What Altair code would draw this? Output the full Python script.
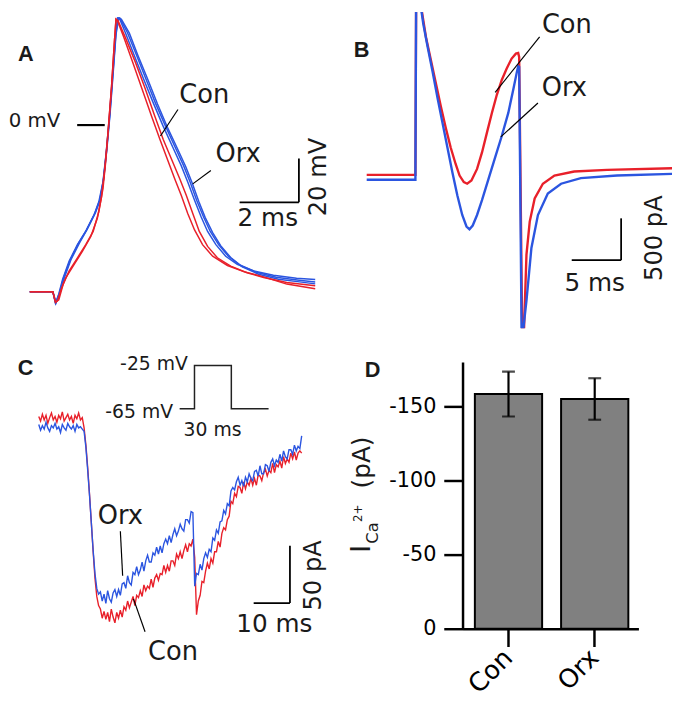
import altair as alt
import pandas as pd

RED = "#e8202a"
BLUE = "#2b55e0"
FONT = "DejaVu Sans"
LFONT = "Liberation Sans"

# ---------------- Panel A: action potentials (ms, mV) ----------------
A_RED1_T = [0, 0.78, 0.87, 0.94, 1.06, 1.22, 1.50, 1.78, 2.06, 2.28, 2.42, 2.53, 2.64, 2.76, 2.86, 2.91, 2.98,
            3.22, 3.56, 3.89, 4.22, 4.50, 4.78, 5.06, 5.28, 5.50, 5.72, 6.00, 6.33, 6.78, 7.33, 7.89, 8.67, 9.63]
A_RED1_V = [-76.0, -76.0, -80.8, -80.0, -74.8, -69.5, -63.5, -57.5, -50.8, -42.5, -32.8, -20.0, -3.5, 17.6, 38.6,
            48.3, 47.6, 40.1, 28.8, 16.8, 4.0, -6.5, -15.5, -24.5, -32.0, -40.3, -48.5, -55.3, -60.5, -64.3, -67.3,
            -69.5, -71.8, -73.3]
A_RED2_T = [0, 0.78, 0.87, 0.98, 1.13, 1.33, 1.61, 1.89, 2.14, 2.33, 2.47, 2.56, 2.64, 2.76, 2.86, 2.91, 2.96,
            3.17, 3.47, 3.78, 4.11, 4.39, 4.64, 4.89, 5.11, 5.33, 5.56, 5.83, 6.17, 6.67, 7.22, 7.89, 8.67, 9.63]
A_RED2_V = [-76.0, -76.0, -80.8, -79.7, -72.5, -66.5, -60.5, -54.5, -48.5, -39.5, -29.0, -17.0, -3.5, 17.6, 38.6,
            48.3, 47.6, 40.1, 28.8, 16.8, 4.0, -6.5, -15.5, -24.5, -32.0, -40.3, -47.8, -54.5, -59.8, -64.0, -66.8,
            -69.2, -72.5, -74.6]
A_BLUE1_T = [0, 0.78, 0.87, 0.98, 1.11, 1.33, 1.61, 1.89, 2.17, 2.33, 2.47, 2.58, 2.69, 2.80, 2.89, 2.96, 3.02,
             3.22, 3.50, 3.83, 4.17, 4.50, 4.83, 5.11, 5.33, 5.56, 5.78, 6.00, 6.28, 6.61, 7.00, 7.56, 8.22, 9.00, 9.63]
A_BLUE1_V = [-76.0, -76.0, -81.2, -77.0, -70.3, -62.0, -54.5, -48.5, -41.0, -35.0, -26.0, -12.5, 4.0, 23.6, 40.1,
             48.8, 48.8, 42.3, 32.6, 21.3, 10.0, -0.5, -10.2, -18.5, -26.0, -34.3, -41.8, -48.5, -54.5, -59.8, -63.5,
             -66.5, -68.5, -69.8, -70.4]
A_BLUE2_T = [0, 0.78, 0.87, 1.00, 1.13, 1.36, 1.63, 1.91, 2.19, 2.36, 2.48, 2.59, 2.70, 2.81, 2.90, 2.97, 3.04,
             3.29, 3.58, 3.91, 4.24, 4.58, 4.91, 5.19, 5.41, 5.63, 5.86, 6.09, 6.37, 6.70, 7.09, 7.64, 8.31, 9.09, 9.63]
A_BLUE2_V = [-76.0, -76.0, -81.2, -76.7, -70.0, -61.7, -54.2, -47.9, -40.4, -34.4, -25.4, -11.9, 4.6, 24.2, 40.7,
             48.8, 48.8, 42.3, 32.6, 21.3, 10.0, -0.5, -10.2, -18.5, -26.0, -34.3, -41.8, -48.5, -54.5, -59.8, -63.8,
             -67.1, -69.4, -70.7, -71.5]
A_BLUE3_T = [0, 0.78, 0.89, 1.02, 1.17, 1.39, 1.67, 1.94, 2.22, 2.38, 2.49, 2.60, 2.71, 2.82, 2.91, 3.00, 3.09,
             3.36, 3.64, 3.98, 4.31, 4.64, 4.98, 5.26, 5.48, 5.70, 5.92, 6.17, 6.44, 6.78, 7.17, 7.72, 8.39, 9.17, 9.63]
A_BLUE3_V = [-76.0, -76.0, -81.0, -76.4, -69.5, -61.4, -53.9, -47.5, -39.8, -33.8, -24.8, -11.3, 5.2, 24.8, 41.3,
             48.5, 48.3, 41.9, 32.1, 20.9, 9.6, -0.9, -10.7, -18.9, -26.4, -34.7, -42.2, -49.0, -55.0, -60.4, -64.6,
             -68.0, -70.3, -71.6, -72.4]

# ---------------- Panel B: AP-clamp currents (ms, pA) ----------------
B_RED_T = [-5.0, -0.07, 0.0, 0.5, 1.0, 1.5, 2.0, 2.5, 3.0, 3.5, 4.0, 4.4, 4.83, 5.17, 5.6, 6.17, 6.67, 7.17, 7.67,
           8.17, 8.67, 9.17, 9.67, 10.1, 10.33, 10.43, 10.73, 10.93, 11.17, 11.5, 12.0, 12.83, 14.0, 16.0, 19.33, 25.9]
B_RED_I = [0, 0, 2018, 2018, 1647, 1372, 1096, 820, 564, 327, 130, -8, -86, -106, -67, 71, 268, 505, 741, 958,
           1135, 1273, 1391, 1450, 1458, 1411, -1820, -1820, -953, -559, -283, -106, -8, 40, 60, 79]
B_BLUE_T = [-5.0, -0.07, 0.0, 0.47, 0.73, 1.17, 1.67, 2.17, 2.67, 3.17, 3.67, 4.17, 4.67, 5.1, 5.4, 5.73, 6.17,
            6.67, 7.33, 8.0, 8.67, 9.33, 9.83, 10.17, 10.33, 10.43, 10.67, 10.87, 11.17, 11.67, 12.33, 13.33, 14.67,
            16.67, 20.33, 25.9]
B_BLUE_I = [-59, -59, 2018, 2018, 1805, 1529, 1234, 918, 623, 327, 32, -244, -480, -618, -650, -606, -480, -303,
            -47, 209, 465, 741, 1017, 1214, 1301, 1293, -1820, -1820, -1505, -874, -480, -224, -106, -39, -8, 12]

# ---------------- Panel C: step-evoked Ca2+ currents (ms, pA) ----------------
C_T = [-12.5, -12.0, -11.5, -11.0, -10.5, -10.0, -9.5, -9.0, -8.5, -8.0,
       -7.5, -7.0, -6.5, -6.0, -5.5, -5.0, -4.5, -4.0, -3.5, -3.0,
       -2.5, -2.0, -1.5, -1.0, -0.5, 0.0, 0.5, 1.0, 1.5, 2.0,
       2.5, 3.0, 3.5, 4.0, 4.5, 5.0, 5.5, 6.0, 6.5, 7.0,
       7.5, 8.0, 8.5, 9.0, 9.5, 10.0, 10.5, 11.0, 11.5, 12.0,
       12.5, 13.0, 13.5, 14.0, 14.5, 15.0, 15.5, 16.0, 16.5, 17.0,
       17.5, 18.0, 18.5, 19.0, 19.5, 20.0, 20.5, 21.0, 21.5, 22.0,
       22.5, 23.0, 23.5, 24.0, 24.5, 25.0, 25.5, 26.0, 26.5, 27.0,
       27.5, 28.0, 28.5, 29.0, 29.5, 30.0, 30.5, 31.0, 31.5, 32.0,
       32.5, 33.0, 33.5, 34.0, 34.5, 35.0, 35.5, 36.0, 36.5, 37.0,
       37.5, 38.0, 38.5, 39.0, 39.5, 40.0, 40.5, 41.0, 41.5, 42.0,
       42.5, 43.0, 43.5, 44.0, 44.5, 45.0, 45.5, 46.0, 46.5, 47.0,
       47.5, 48.0, 48.5, 49.0, 49.5, 50.0, 50.5, 51.0, 51.5, 52.0,
       52.5, 53.0, 53.5, 54.0, 54.5, 55.0, 55.5, 56.0, 56.5, 57.0,
       57.5, 58.0, 58.5, 59.0, 59.5, 60.0]
C_BLUE = [-2, -7, -3, -6, 0, -5, -8, -3, -5, -1, -6, -4, -9, -2, -5, -7, -1, -4, -6, -3, -8, -2, -5, -4, -6,
          -8, -22, -42, -64, -88, -112, -132, -145, -150,
          -148, -156, -150, -158, -147, -154, -157, -149,
          -146, -152, -146, -151, -141, -140, -145, -134, -140, -142, -131, -133, -126, -133, -129, -122, -130,
          -121, -116, -122, -122, -114, -116, -109, -115, -108, -114, -106, -102, -106, -99, -105, -98, -93, -99,
          -95, -89, -93, -95, -85, -85, -88, -78, -79,
          -143, -132, -133, -124, -129, -119, -114, -118, -111, -113, -101, -103, -94, -97, -87, -86, -77, -80,
          -71, -73, -60, -57, -59, -52, -48, -55, -51, -56, -48, -52, -45, -49, -51, -43, -42, -47, -38, -45, -45,
          -37, -38, -43, -35, -32, -38, -33, -35, -28, -34, -25, -30, -32, -24, -24, -28, -20, -25, -21, -23, -12]
C_RED = [5, 1, 7, 2, 6, -1, 4, 8, 2, 5, 0, 6, 3, 9, 1, 4, 7, 2, 5, -1, 6, 3, 8, 2, 4,
         -5, -20, -40, -63, -88, -113, -136, -152, -160,
         -163, -171, -165, -172, -166, -174, -163, -170, -175, -166, -171, -164,
         -170, -161, -164, -156, -162, -157, -152, -160, -151, -153, -147, -152, -142, -147, -143, -145, -137,
         -144, -136, -133, -138, -132, -133, -125, -131, -125, -130, -121, -121, -125, -115, -119, -113, -119,
         -112, -107, -113, -106, -108, -102,
         -118, -168, -156, -151, -139, -140, -130, -123, -128, -119, -123, -113, -113, -104, -109, -97, -92, -94,
         -85, -82, -69, -71, -62, -65, -56, -57, -62, -52, -58, -52, -55, -49, -55, -49, -55, -46, -47, -51, -44,
         -41, -47, -42, -44, -36, -44, -37, -39, -34, -40, -30, -36, -32, -35, -27, -32, -26, -33, -27, -25, -27]
C_STEP_T = [26.35, 30.44, 30.44, 40.6, 40.6, 50.87]
C_STEP_I = [11.8, 11.8, 49.4, 49.4, 11.8, 11.8]

# ---------------- Panel D: peak ICa2+ (pA) ----------------
D_COND = ["Con", "Orx"]
D_MEAN = [-158.3, -155.0]
D_SEM = [15.1, 14.0]


def scale(dom, rng):
    return alt.Scale(domain=dom, range=rng, nice=False, zero=False)


def trace(t, v, color, width, xs, ys):
    df = pd.DataFrame({"t": t, "v": v, "i": list(range(len(t)))})
    return alt.Chart(df).mark_line(color=color, strokeWidth=width, clip=True).encode(
        x=alt.X("t:Q", scale=xs, axis=None),
        y=alt.Y("v:Q", scale=ys, axis=None),
        order=alt.Order("i:Q"))


def segs(rows, xs, ys, width):
    df = pd.DataFrame(rows, columns=["t", "v", "t2", "v2"])
    return alt.Chart(df).mark_rule(color="black", strokeWidth=width, clip=True).encode(
        x=alt.X("t:Q", scale=xs, axis=None), y=alt.Y("v:Q", scale=ys, axis=None),
        x2="t2:Q", y2="v2:Q")


def label(txt, t, v, xs, ys, size, align="center", angle=0, bold=False, font=FONT):
    df = pd.DataFrame({"t": [t], "v": [v], "label": [txt]})
    return alt.Chart(df).mark_text(font=font, fontSize=size, align=align, baseline="alphabetic",
                                   angle=angle, fontWeight="bold" if bold else "normal",
                                   color="#1a1a1a", clip=True).encode(
        x=alt.X("t:Q", scale=xs, axis=None), y=alt.Y("v:Q", scale=ys, axis=None), text="label:N")


# ---- A ----  (plot-area pixel ranges: the whole figure is one 674x695 canvas)
xa = scale([-1.0, 10.3667], [-8, 333])
ya = scale([-93.56, 55.09], [322, -8])
panel_a = alt.layer(
    trace(A_BLUE1_T, A_BLUE1_V, BLUE, 1.5, xa, ya),
    trace(A_BLUE2_T, A_BLUE2_V, BLUE, 1.5, xa, ya),
    trace(A_BLUE3_T, A_BLUE3_V, BLUE, 1.5, xa, ya),
    trace(A_RED1_T, A_RED1_V, RED, 1.5, xa, ya),
    trace(A_RED2_T, A_RED2_V, RED, 1.5, xa, ya),
    segs([[5.0, 7.1, 4.41, -5.0], [6.11, -20.7, 5.5, -26.8]], xa, ya, 1.2),
    segs([[1.6, 0.0, 2.53, 0.0]], xa, ya, 2.2),
    segs([[7.08, -35.2, 9.08, -35.2], [9.08, -35.2, 9.08, -15.2]], xa, ya, 1.8),
    label("Con", 5.89, 10.0, xa, ya, 26),
    label("Orx", 7.03, -16.7, xa, ya, 26),
    label("2 ms", 8.03, -45.8, xa, ya, 25),
    label("20 mV", 10.0, -23.7, xa, ya, 24.5, angle=270),
    label("0 mV", 1.03, -0.9, xa, ya, 20, align="right"),
    label("A", -0.4, 29.4, xa, ya, 22, align="left", bold=True, font=LFONT),
)

# ---- B ----
xb = scale([4.7, 26.1], [460, 674])
yb = scale([-1859.3, 2041.3], [322, -8])
panel_b = alt.layer(
    trace(B_RED_T, B_RED_I, RED, 2.4, xb, yb),
    trace(B_BLUE_T, B_BLUE_I, BLUE, 2.4, xb, yb),
    segs([[12.5, 1651.0, 8.0, 985.8], [12.33, 859.3, 8.57, 453.9]], xb, yb, 1.2),
    segs([[15.75, -1020.1, 20.75, -1020.1], [20.75, -1020.1, 20.75, -520.1]], xb, yb, 1.8),
    label("Con", 15.26, 1698.5, xb, yb, 26),
    label("Orx", 15.0, 945.6, xb, yb, 26),
    label("5 ms", 18.07, -1386.5, xb, yb, 25),
    label("500 pA", 24.9, -756.5, xb, yb, 24.5, angle=270),
    label("B", -6.3, 1414.9, xb, yb, 22, align="left", bold=True, font=LFONT),
)

# ---- C ----
xc = scale([-23.16, 69.75], [-8, 333])
yc = scale([-241.38, 52.59], [695, 354])
panel_c = alt.layer(
    trace(C_T, C_RED, RED, 1.4, xc, yc),
    trace(C_T, C_BLUE, BLUE, 1.4, xc, yc),
    trace(C_STEP_T, C_STEP_I, "#222222", 1.5, xc, yc),
    segs([[10.0, -95.1, 10.63, -133.9], [16.81, -182.8, 13.62, -154.1]], xc, yc, 1.2),
    segs([[46.76, -157.8, 56.76, -157.8], [56.76, -157.8, 56.76, -107.8]], xc, yc, 1.8),
    label("Orx", 10.0, -88.8, xc, yc, 26),
    label("Con", 24.52, -207.2, xc, yc, 26),
    label("10 ms", 52.45, -182.8, xc, yc, 25),
    label("50 pA", 65.4, -133.6, xc, yc, 24.5, angle=270),
    label("-25 mV", 28.61, 45.7, xc, yc, 19, align="right"),
    label("-65 mV", 24.52, 4.1, xc, yc, 19, align="right"),
    label("30 ms", 35.42, -11.8, xc, yc, 19),
    label("C", -18.26, 41.4, xc, yc, 22, align="left", bold=True, font=LFONT),
)

# ---- D ----
d_df = pd.DataFrame({"cond": D_COND, "mean": D_MEAN, "sem": D_SEM})
d_df["hi"] = d_df["mean"] - d_df["sem"]
d_df["lo"] = d_df["mean"] + d_df["sem"]

x_axis_d = alt.Axis(title=None, orient="bottom", offset=-71, labelAngle=315, labelAlign="right",
                    labelBaseline="middle", labelFont=FONT, labelFontSize=26, labelColor="black",
                    labelPadding=7, tickSize=18, tickWidth=2.5, tickColor="black", domainWidth=2.5,
                    domainColor="black", grid=False)
y_axis_d = alt.Axis(title=None, orient="left", offset=-460, values=[0, -50, -100, -150],
                    labelExpr="toString(datum.value)", labelFont=FONT, labelFontSize=21,
                    labelColor="black", labelPadding=8, labelOverlap=False, tickSize=19, tickWidth=2.5,
                    tickColor="black", domainWidth=2.5, domainColor="black", grid=False)
xscale_d = alt.Scale(domain=D_COND, range=[460, 638], paddingInner=0.22, paddingOuter=0.13, align=0.55)
yscale_d = alt.Scale(domain=[0, -180], range=[624, 354], nice=False, zero=False)
xd = alt.X("cond:N", sort=D_COND, scale=xscale_d, axis=x_axis_d)

base_d = alt.Chart(d_df)
bars = base_d.mark_bar(color="#808080", stroke="black", strokeWidth=2).encode(
    x=xd, y=alt.Y("mean:Q", scale=yscale_d, axis=y_axis_d), y2=alt.datum(0))
err = base_d.mark_rule(color="black", strokeWidth=2.2).encode(
    x=xd, y=alt.Y("hi:Q", scale=yscale_d, axis=y_axis_d), y2="lo:Q")
cap_hi = base_d.mark_tick(color="black", thickness=2.2, size=13).encode(
    x=xd, y=alt.Y("hi:Q", scale=yscale_d, axis=y_axis_d))
cap_lo = base_d.mark_tick(color="black", thickness=2.2, size=13).encode(
    x=xd, y=alt.Y("lo:Q", scale=yscale_d, axis=y_axis_d))

one = pd.DataFrame({"k": [0]})


def dtext(txt, px, py, size, angle=270, bold=False, font=FONT):
    return alt.Chart(one).mark_text(text=txt, font=font, fontSize=size, align="left",
                                    baseline="alphabetic", angle=angle,
                                    fontWeight="bold" if bold else "normal", color="#1a1a1a").encode(
        x=alt.value(px), y=alt.value(py))


panel_d = alt.layer(
    bars, err, cap_hi, cap_lo,
    dtext("I", 366, 547, 27),
    dtext("Ca", 374, 538, 16.5),
    dtext("2+", 358, 516, 12),
    dtext("(pA)", 366, 482, 25),
    dtext("D", 361, 369, 22, angle=0, bold=True, font=LFONT),
)

chart = alt.layer(panel_a, panel_b, panel_c, panel_d).resolve_scale(
    x="independent", y="independent"
).properties(width=674, height=695, padding=0).configure_view(stroke=None)

chart.save("out.html", embed_options={"renderer": "svg", "actions": False})
